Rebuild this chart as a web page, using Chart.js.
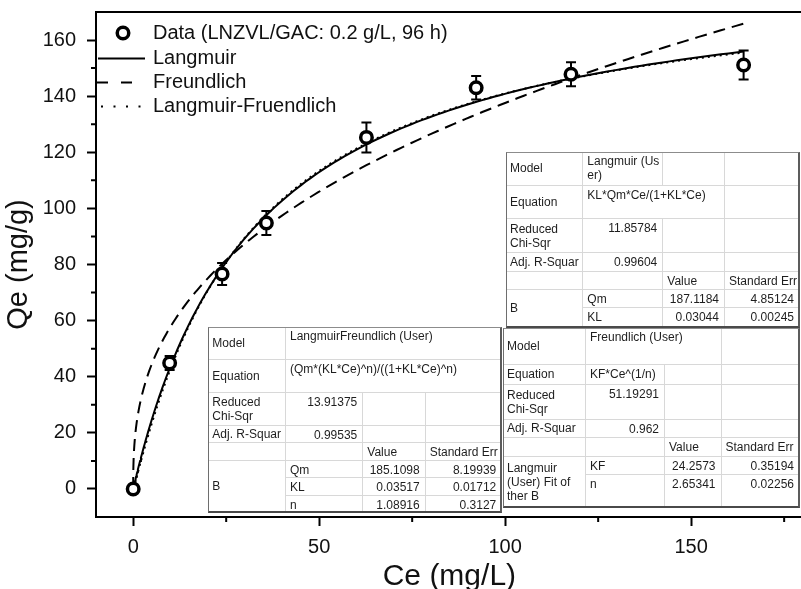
<!DOCTYPE html>
<html>
<head>
<meta charset="utf-8">
<script src="https://cdn.jsdelivr.net/npm/chart.js@4/dist/chart.umd.min.js"></script>
<style>
  html, body { margin: 0; padding: 0; background: #fff; overflow: hidden; }
  #wrap { position: relative; width: 812px; height: 589px; }
  #c { position: absolute; left: 0; top: 0; }
  .fit { position: absolute; background: #fff; }
  .fit .edge { position: absolute; left: 0; top: 0; right: 0; bottom: 0; box-sizing: border-box;
    border-top: 1px solid #8c8c8c; border-left: 1.5px solid #6e6e6e;
    border-right: 2px solid #5c5c5c; border-bottom: 2px solid #4a4a4a; pointer-events: none; }
  .cell { position: absolute; box-sizing: border-box; border-right: 1px solid #d8d8d8; border-bottom: 1px solid #d8d8d8;
    font: 12px/14px "Liberation Sans", Arial, sans-serif; color: #1e1e1e; padding: 2px 4px 0 4px; white-space: nowrap; }
  .cell.lab { display: flex; align-items: center; padding-top: 0; }
  .cell.num { text-align: right; padding-right: 5px; }
</style>
</head>
<body>
<div id="wrap">
  <canvas id="c" width="812" height="589"></canvas>
</div>
<script>
// Equilibrium data (LNZVL/GAC: 0.2 g/L, 96 h)
const ce = [0, 9.8, 23.9, 35.8, 62.7, 92.2, 117.7, 164.1];
const qe = [0, 44.9, 76.6, 94.8, 125.3, 143.0, 147.8, 151.1];
const qeErr = [1.5, 2.5, 3.9, 4.3, 5.35, 4.2, 4.3, 5.2];

// Axis ticks
const xTicks = [0, 50, 100, 150];
const xMinor = [25, 75, 125, 175];
const yTicks = [0, 20, 40, 60, 80, 100, 120, 140, 160];
const yMinor = [10, 30, 50, 70, 90, 110, 130, 150];

// Series names
const seriesNames = ['Data (LNZVL/GAC: 0.2 g/L, 96 h)', 'Langmuir', 'Freundlich', 'Langmuir-Fruendlich'];

// Fit results: [Reduced Chi-Sqr, Adj. R-Square], parameter values and standard errors
const langmuirStats = [11.85784, 0.99604];
const langmuirVal = [187.1184, 0.03044];     // Qm, KL
const langmuirErr = [4.85124, 0.00245];
const freundStats = [51.19291, 0.962];
const freundVal = [24.2573, 2.65341];        // KF, n
const freundErr = [0.35194, 0.02256];
const lfStats = [13.91375, 0.99535];
const lfVal = [185.1098, 0.03517, 1.08916];  // Qm, KL, n
const lfErr = [8.19939, 0.01712, 0.3127];

// Fitted model equations evaluated with the reported parameters
const langmuirModel = c => langmuirVal[1] * langmuirVal[0] * c / (1 + langmuirVal[1] * c);
const freundModel = c => freundVal[0] * Math.pow(c, 1 / freundVal[1]);
const lfModel = c => (lfVal[0] * Math.pow(lfVal[1] * c, lfVal[2])) / Math.pow(1 + lfVal[1] * c, lfVal[2]);

const ceMax = ce[ce.length - 1];
const ceGrid = [];
for (let i = 0; i <= 160; i++) ceGrid.push(ceMax * Math.pow(i / 160, 2));
const curve = f => ceGrid.map(c => ({ x: c, y: f(c) }));

Chart.defaults.font.family = '"Liberation Sans", Arial, sans-serif';
Chart.defaults.color = '#111';

const INK = '#000';
const styles = [
  { dash: [], width: 2 },
  { dash: [12, 7], width: 2 },
  { dash: [2, 4], width: 2 }
];

const decor = {
  id: 'decor',
  beforeDatasetDraw(chart, args) {
    if (args.index !== 0) return;
    const { ctx, scales: { x, y } } = chart;
    ctx.save();
    ctx.strokeStyle = INK;
    ctx.lineWidth = 2;
    ctx.beginPath();
    ce.forEach((c, i) => {
      const px = x.getPixelForValue(c);
      const t = y.getPixelForValue(qe[i] + qeErr[i]);
      const b = y.getPixelForValue(qe[i] - qeErr[i]);
      ctx.moveTo(px, t); ctx.lineTo(px, b);
      ctx.moveTo(px - 5, t); ctx.lineTo(px + 5, t);
      ctx.moveTo(px - 5, b); ctx.lineTo(px + 5, b);
    });
    ctx.stroke();
    ctx.restore();
  },
  afterDraw(chart) {
    const { ctx, chartArea: a, scales: { x, y } } = chart;
    ctx.save();
    ctx.strokeStyle = INK;
    ctx.lineWidth = 2;
    // plot frame
    ctx.strokeRect(a.left, a.top, a.right - a.left, a.bottom - a.top);
    // minor ticks
    ctx.beginPath();
    xMinor.forEach(v => {
      const px = x.getPixelForValue(v);
      ctx.moveTo(px, a.bottom); ctx.lineTo(px, a.bottom + 5);
    });
    yMinor.forEach(v => {
      const py = y.getPixelForValue(v);
      ctx.moveTo(a.left, py); ctx.lineTo(a.left - 5, py);
    });
    ctx.stroke();

    // legend
    const lx = 153, rows = [33, 58.5, 82.5, 106.5];
    ctx.font = '20px "Liberation Sans", Arial, sans-serif';
    ctx.fillStyle = '#111';
    ctx.textBaseline = 'middle';
    ctx.textAlign = 'left';
    seriesNames.forEach((t, i) => ctx.fillText(t, lx, rows[i]));
    // data symbol
    ctx.beginPath();
    ctx.lineWidth = 3.5;
    ctx.arc(123, rows[0], 5.75, 0, Math.PI * 2);
    ctx.fillStyle = '#fff';
    ctx.fill();
    ctx.stroke();
    // line samples
    ctx.lineWidth = 2;
    ctx.beginPath(); ctx.setLineDash([]);
    ctx.moveTo(98, rows[1]); ctx.lineTo(145, rows[1]); ctx.stroke();
    ctx.beginPath(); ctx.setLineDash([11, 13]);
    ctx.moveTo(97, rows[2]); ctx.lineTo(134, rows[2]); ctx.stroke();
    ctx.beginPath(); ctx.setLineDash([2, 10.5]);
    ctx.moveTo(101, rows[3]); ctx.lineTo(141, rows[3]); ctx.stroke();
    ctx.restore();
  }
};

new Chart(document.getElementById('c'), {
  type: 'scatter',
  data: {
    datasets: [
      {
        label: seriesNames[0],
        data: ce.map((c, i) => ({ x: c, y: qe[i] })),
        showLine: false,
        pointRadius: 5.75,
        pointBorderWidth: 3.5,
        pointBorderColor: INK,
        pointBackgroundColor: '#fff'
      },
      {
        label: seriesNames[1], data: curve(langmuirModel), showLine: true, pointRadius: 0,
        borderColor: INK, borderWidth: styles[0].width, borderDash: styles[0].dash, tension: 0
      },
      {
        label: seriesNames[2], data: curve(freundModel), showLine: true, pointRadius: 0,
        borderColor: INK, borderWidth: styles[1].width, borderDash: styles[1].dash, tension: 0
      },
      {
        label: seriesNames[3], data: curve(lfModel), showLine: true, pointRadius: 0,
        borderColor: INK, borderWidth: styles[2].width, borderDash: styles[2].dash, tension: 0
      }
    ]
  },
  options: {
    responsive: false,
    animation: false,
    devicePixelRatio: 1,
    layout: { padding: { top: 12, right: 1, left: 0, bottom: 0 } },
    plugins: { legend: { display: false }, tooltip: { enabled: false } },
    scales: {
      x: {
        type: 'linear', min: -10, max: 180,
        afterBuildTicks: s => { s.ticks = xTicks.map(v => ({ value: v })); },
        afterFit: s => { s.height = 72; s.paddingLeft = 0; s.paddingRight = 0; },
        grid: { drawOnChartArea: false, drawTicks: true, tickLength: 9, tickWidth: 2, tickColor: INK },
        border: { display: true, color: INK, width: 2 },
        ticks: { font: { size: 20 }, padding: 9, maxRotation: 0, color: '#111' },
        title: { display: true, text: 'Ce (mg/L)', color: '#111', font: { size: 30, lineHeight: 1 }, padding: { top: 0, bottom: -3 } }
      },
      y: {
        type: 'linear', min: -10, max: 170,
        afterBuildTicks: s => { s.ticks = yTicks.map(v => ({ value: v })); },
        afterFit: s => { s.width = 96; s.paddingTop = 0; s.paddingBottom = 0; },
        grid: { drawOnChartArea: false, drawTicks: true, tickLength: 9, tickWidth: 2, tickColor: INK },
        border: { display: true, color: INK, width: 2 },
        ticks: { font: { size: 20 }, padding: 11, color: '#111' },
        title: { display: true, text: 'Qe (mg/g)', color: '#111', font: { size: 29, lineHeight: 1 }, padding: { top: 4, bottom: 0 } }
      }
    }
  },
  plugins: [decor]
});

// Fit summary tables
function buildTable(left, top, colW, rowH, cells) {
  const box = document.createElement('div');
  box.className = 'fit';
  const colX = [0], rowY = [0];
  colW.forEach(w => colX.push(colX[colX.length - 1] + w));
  rowH.forEach(h => rowY.push(rowY[rowY.length - 1] + h));
  Object.assign(box.style, { left: left + 'px', top: top + 'px', width: colX[colX.length - 1] + 'px', height: rowY[rowY.length - 1] + 'px' });
  cells.forEach(([r, c, rs, cs, text, cls]) => {
    const d = document.createElement('div');
    d.className = 'cell' + (cls ? ' ' + cls : '');
    Object.assign(d.style, {
      left: colX[c] + 'px', top: rowY[r] + 'px',
      width: (colX[c + cs] - colX[c]) + 'px', height: (rowY[r + rs] - rowY[r]) + 'px'
    });
    if (cls === 'lab') {
      const s = document.createElement('span');
      s.innerHTML = text;
      d.appendChild(s);
    } else {
      d.innerHTML = text;
    }
    box.appendChild(d);
  });
  const edge = document.createElement('div');
  edge.className = 'edge';
  box.appendChild(edge);
  document.getElementById('wrap').appendChild(box);
}

const fmt = v => String(v);

buildTable(506, 151.7, [77.3, 80, 61.7, 75], [34.3, 33.3, 34, 18.4, 18.3, 18.3, 19.4], [
  [0, 0, 1, 1, 'Model', 'lab'], [0, 1, 1, 1, 'Langmuir (Us<br>er)', ''], [0, 2, 1, 1, '', ''], [0, 3, 1, 1, '', ''],
  [1, 0, 1, 1, 'Equation', 'lab'], [1, 1, 1, 2, 'KL*Qm*Ce/(1+KL*Ce)', ''], [1, 3, 1, 1, '', ''],
  [2, 0, 1, 1, 'Reduced<br>Chi-Sqr', 'lab'], [2, 1, 1, 1, fmt(langmuirStats[0]), 'num'], [2, 2, 1, 1, '', ''], [2, 3, 1, 1, '', ''],
  [3, 0, 1, 1, 'Adj. R-Squar', 'lab'], [3, 1, 1, 1, fmt(langmuirStats[1]), 'num'], [3, 2, 1, 1, '', ''], [3, 3, 1, 1, '', ''],
  [4, 0, 1, 1, '', ''], [4, 1, 1, 1, '', ''], [4, 2, 1, 1, 'Value', ''], [4, 3, 1, 1, 'Standard Err', ''],
  [5, 0, 2, 1, 'B', 'lab'], [5, 1, 1, 1, 'Qm', ''], [5, 2, 1, 1, fmt(langmuirVal[0]), 'num'], [5, 3, 1, 1, fmt(langmuirErr[0]), 'num'],
  [6, 1, 1, 1, 'KL', ''], [6, 2, 1, 1, fmt(langmuirVal[1]), 'num'], [6, 3, 1, 1, fmt(langmuirErr[1]), 'num']
]);

buildTable(503, 327.5, [83, 79, 56.5, 78.5], [37, 20.4, 35, 18, 19.2, 18.3, 32.1], [
  [0, 0, 1, 1, 'Model', 'lab'], [0, 1, 1, 2, 'Freundlich (User)', ''], [0, 3, 1, 1, '', ''],
  [1, 0, 1, 1, 'Equation', 'lab'], [1, 1, 1, 1, 'KF*Ce^(1/n)', ''], [1, 2, 1, 1, '', ''], [1, 3, 1, 1, '', ''],
  [2, 0, 1, 1, 'Reduced<br>Chi-Sqr', 'lab'], [2, 1, 1, 1, fmt(freundStats[0]), 'num'], [2, 2, 1, 1, '', ''], [2, 3, 1, 1, '', ''],
  [3, 0, 1, 1, 'Adj. R-Squar', 'lab'], [3, 1, 1, 1, fmt(freundStats[1]), 'num'], [3, 2, 1, 1, '', ''], [3, 3, 1, 1, '', ''],
  [4, 0, 1, 1, '', ''], [4, 1, 1, 1, '', ''], [4, 2, 1, 1, 'Value', ''], [4, 3, 1, 1, 'Standard Err', ''],
  [5, 0, 2, 1, 'Langmuir<br>(User) Fit of<br>ther B', 'lab'], [5, 1, 1, 1, 'KF', ''], [5, 2, 1, 1, fmt(freundVal[0]), 'num'], [5, 3, 1, 1, fmt(freundErr[0]), 'num'],
  [6, 1, 1, 1, 'n', ''], [6, 2, 1, 1, fmt(freundVal[1]), 'num'], [6, 3, 1, 1, fmt(freundErr[1]), 'num']
]);

buildTable(208.3, 327, [77.7, 77.3, 62.4, 76.6], [33.4, 32.8, 32.5, 17.5, 17.5, 17.5, 17.5, 17.5], [
  [0, 0, 1, 1, 'Model', 'lab'], [0, 1, 1, 3, 'LangmuirFreundlich (User)', ''],
  [1, 0, 1, 1, 'Equation', 'lab'], [1, 1, 1, 3, '(Qm*(KL*Ce)^n)/((1+KL*Ce)^n)', ''],
  [2, 0, 1, 1, 'Reduced<br>Chi-Sqr', 'lab'], [2, 1, 1, 1, fmt(lfStats[0]), 'num'], [2, 2, 1, 1, '', ''], [2, 3, 1, 1, '', ''],
  [3, 0, 1, 1, 'Adj. R-Squar', 'lab'], [3, 1, 1, 1, fmt(lfStats[1]), 'num'], [3, 2, 1, 1, '', ''], [3, 3, 1, 1, '', ''],
  [4, 0, 1, 1, '', ''], [4, 1, 1, 1, '', ''], [4, 2, 1, 1, 'Value', ''], [4, 3, 1, 1, 'Standard Err', ''],
  [5, 0, 3, 1, 'B', 'lab'], [5, 1, 1, 1, 'Qm', ''], [5, 2, 1, 1, fmt(lfVal[0]), 'num'], [5, 3, 1, 1, fmt(lfErr[0]), 'num'],
  [6, 1, 1, 1, 'KL', ''], [6, 2, 1, 1, fmt(lfVal[1]), 'num'], [6, 3, 1, 1, fmt(lfErr[1]), 'num'],
  [7, 1, 1, 1, 'n', ''], [7, 2, 1, 1, fmt(lfVal[2]), 'num'], [7, 3, 1, 1, fmt(lfErr[2]), 'num']
]);
</script>
</body>
</html>
